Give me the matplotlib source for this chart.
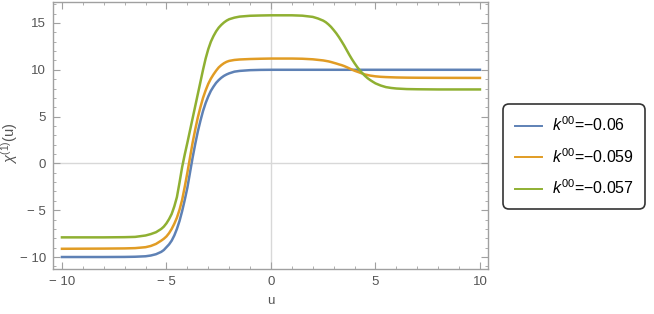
import matplotlib
matplotlib.use("Agg")
import matplotlib.pyplot as plt
from matplotlib.ticker import MultipleLocator

u = [-10, -8, -7, -6.5, -6, -5.75, -5.5,
     -5.25, -5.125, -5, -4.875, -4.75, -4.625, -4.5, -4.375, -4.25, -4.125,
     -4, -3.875, -3.75, -3.625, -3.5, -3.375, -3.25, -3.125, -3, -2.875,
     -2.75, -2.625, -2.5, -2.375, -2.25, -2.125, -2,
     -1.75, -1.5, -1, -0.5, 0, 1, 1.5, 2,
     2.25, 2.5,
     2.625, 2.75, 2.875, 3, 3.125, 3.25, 3.375, 3.5, 3.625, 3.75, 3.875, 4,
     4.125, 4.25, 4.375, 4.5, 4.625, 4.75, 4.875, 5,
     5.25, 5.5, 5.75, 6, 6.5, 7, 8, 10]

# k00 = -0.06
chi_a = [-10, -10, -9.99, -9.97, -9.92, -9.84, -9.7,
         -9.45, -9.25, -8.95, -8.65, -8.25, -7.7, -7.0, -6.15, -5.1, -3.9,
         -2.6, -1.0, 0.6, 2.05, 3.4, 4.55, 5.6, 6.45, 7.15, 7.75,
         8.2, 8.6, 8.9, 9.15, 9.35, 9.5, 9.62,
         9.8, 9.88, 9.96, 9.99, 10, 10, 10, 10,
         10, 10,
         10, 10, 10, 10, 10, 10, 10, 10, 10, 10, 10, 10,
         10, 10, 10, 10, 10, 10, 10, 10,
         10, 10, 10, 10, 10, 10, 10, 10]

# k00 = -0.059
chi_b = [-9.12, -9.1, -9.08, -9.05, -8.95, -8.82, -8.6,
         -8.25, -8.05, -7.8, -7.45, -7.0, -6.45, -5.8, -4.95, -3.9, -2.5,
         -1.0, 0.6, 2.2, 3.6, 4.9, 6.0, 7.0, 7.8, 8.5, 9.05,
         9.5, 9.9, 10.25, 10.5, 10.7, 10.85, 10.95,
         11.05, 11.1, 11.15, 11.18, 11.2, 11.2, 11.18, 11.12,
         11.06, 11.0,
         10.95, 10.9, 10.83, 10.75, 10.67, 10.58, 10.5, 10.4, 10.28, 10.15,
         10.02, 9.9,
         9.8, 9.7, 9.6, 9.5, 9.44, 9.38, 9.34, 9.3,
         9.25, 9.22, 9.2, 9.18, 9.16, 9.15, 9.14, 9.13]

# k00 = -0.057
chi_c = [-7.9, -7.9, -7.88, -7.85, -7.7, -7.55, -7.35,
         -7.0, -6.75, -6.4, -5.95, -5.4, -4.6, -3.6, -2.05, -0.4, 0.95,
         2.2, 3.5, 4.8, 6.1, 7.4, 8.7, 10.0, 11.2, 12.2, 13.0,
         13.6, 14.1, 14.5, 14.8, 15.05, 15.25, 15.4,
         15.57, 15.68, 15.77, 15.8, 15.82, 15.82, 15.78, 15.65,
         15.48, 15.25,
         15.08, 14.85, 14.58, 14.25, 13.9, 13.5, 13.06, 12.6, 12.1, 11.6,
         11.13, 10.7,
         10.3, 9.95, 9.63, 9.35, 9.1, 8.9, 8.72, 8.55,
         8.32, 8.15, 8.06, 8.0, 7.94, 7.92, 7.9, 7.9]

labels = ["\u22120.06", "\u22120.059", "\u22120.057"]
colors = ["#5e81b5", "#e19c24", "#8fb032"]

plt.rcParams["font.family"] = ["Liberation Sans", "DejaVu Sans"]
plt.rcParams["mathtext.fontset"] = "custom"
plt.rcParams["mathtext.rm"] = "Liberation Sans"
plt.rcParams["mathtext.it"] = "Liberation Sans:italic"

fig = plt.figure(figsize=(6.54, 3.14), dpi=100)
ax = fig.add_axes([0.081, 0.1433, 0.665, 0.8503])

# light origin lines
ax.axhline(0, color="#d8d8d8", lw=1.0, zorder=0)
ax.axvline(0, color="#d8d8d8", lw=1.0, zorder=0)

for ys, lab, c in zip([chi_a, chi_b, chi_c], labels, colors):
    ax.plot(u, ys, color=c, lw=1.8, label=r"$k^{00}$=" + lab)

ax.set_xlim(-10.43, 10.38)
ax.set_ylim(-11.28, 17.24)

ax.xaxis.set_major_locator(MultipleLocator(5))
ax.xaxis.set_minor_locator(MultipleLocator(1))
ax.yaxis.set_major_locator(MultipleLocator(5))
ax.yaxis.set_minor_locator(MultipleLocator(1))

ax.xaxis.set_major_formatter(lambda v, p: f"{v:.0f}".replace("-", "\u2212 "))
ax.yaxis.set_major_formatter(lambda v, p: f"{v:.0f}".replace("-", "\u2212 "))

for s in ax.spines.values():
    s.set_color("#a0a0a0")
    s.set_linewidth(1.0)

ax.tick_params(which="both", direction="in", top=True, right=True,
               color="#a0a0a0", labelcolor="#555555", labelsize=9.5)
ax.tick_params(which="major", length=5, width=0.8, pad=5)
ax.tick_params(which="minor", length=2.5, width=0.6)

ax.set_xlabel("u", color="#555555", fontsize=9.5, labelpad=5)
ax.set_ylabel(r"$\chi^{(1)}$(u)", color="#555555", fontsize=10.5)
ax.yaxis.set_label_coords(-0.075, 0.47)

leg = fig.legend(loc="center left", bbox_to_anchor=(0.769, 0.502),
                 fontsize=11.5, frameon=True, fancybox=True, handlelength=1.7,
                 handletextpad=0.6, borderpad=0.75, borderaxespad=0,
                 labelspacing=0.8)
leg.get_frame().set_edgecolor("black")
leg.get_frame().set_linewidth(1.2)
leg.get_frame().set_boxstyle("round", pad=0, rounding_size=0.4)
for line in leg.get_lines():
    line.set_linewidth(1.4)

fig.savefig("out.png", dpi=100)
